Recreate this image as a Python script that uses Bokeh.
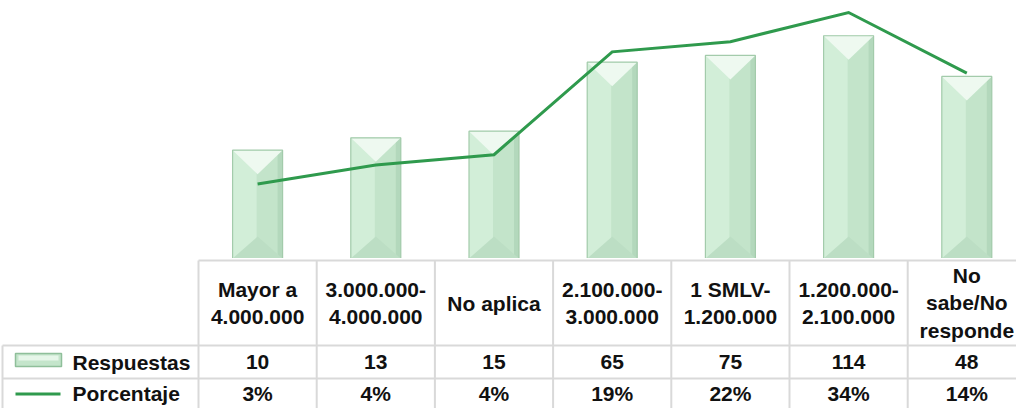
import numpy as np
from bokeh.plotting import figure
from bokeh.models import Range1d, LogScale
from bokeh.layouts import column
from bokeh.embed import file_html
from bokeh.resources import INLINE
from bokeh.core.properties import value

# ---------------- data ----------------
categories = ["Mayor a\n4.000.000", "3.000.000-\n4.000.000", "No aplica",
              "2.100.000-\n3.000.000", "1 SMLV-\n1.200.000",
              "1.200.000-\n2.100.000", "No\nsabe/No\nresponde"]
respuestas = [10, 13, 15, 65, 75, 114, 48]
porcentaje = [2.9, 3.8, 4.4, 19.1, 22.1, 33.5, 14.1]
series_names = ["Respuestas", "Porcentaje"]

# ---------------- layout constants (px) ----------------
W, H_CHART, H_TABLE = 1016, 258, 150
COL_W = 118.2
FIRST_COL = 198
PX_DEC_BAR = 108.3
PX_DEC_PCT = 161.3
BAR_W = 50
FONT = value("Liberation Sans")
FS = "21px"
LINE_COLOR = "#2f9a4d"
GRID = "#d9d9d9"
TXT = "#111111"

n = len(categories)
idx = np.arange(n)
cx = idx + 0.5
xr = Range1d(-FIRST_COL / COL_W, (W - FIRST_COL) / COL_W)

# ---------------- chart ----------------
p = figure(width=W, height=H_CHART, x_range=xr,
           y_range=Range1d(1, 10 ** (H_CHART / PX_DEC_BAR)),
           output_backend="svg", toolbar_location=None, min_border=0,
           x_axis_location=None, y_axis_location=None)
p.y_scale = LogScale()
p.extra_y_ranges = {"pct": Range1d(1, 10 ** (H_CHART / PX_DEC_PCT))}
p.extra_y_scales = {"pct": LogScale()}
p.grid.visible = False
p.outline_line_color = None
p.background_fill_color = None
p.border_fill_color = None

h = BAR_W / 2 / COL_W
s = 5 / COL_W
tops = np.array(respuestas, dtype=float)
ones = np.ones(n)

# base face (right half)
p.quad(left=cx - h, right=cx + h, bottom=ones, top=tops,
       fill_color="#c3e4ca", line_color=None)
# left half lighter
p.quad(left=cx - h, right=cx - 1 / COL_W, bottom=ones, top=tops,
       fill_color="#d2eed8", line_color=None)
# right strip darker
p.quad(left=cx + h - s, right=cx + h, bottom=ones, top=tops,
       fill_color="#b3d8bc", line_color=None)
# top bevel triangle
tip_top = tops / 10 ** (24 / PX_DEC_BAR)
p.patches(xs=[[a - h, a + h, a] for a in cx],
          ys=[[t, t, tt] for t, tt in zip(tops, tip_top)],
          fill_color="#eef9f0", line_color=None)
# bottom bevel triangle
tip_bot = ones * 10 ** (22 / PX_DEC_BAR)
p.patches(xs=[[a - h, a + h, a] for a in cx],
          ys=[[1, 1, tb] for tb in tip_bot],
          fill_color="#bcdec4", line_color=None)
# outline
p.quad(left=cx - h, right=cx + h, bottom=ones, top=tops,
       fill_color=None, line_color="#a3cbab", line_width=1.2)

# percentage line
p.line(x=cx, y=porcentaje, y_range_name="pct", line_color=LINE_COLOR,
       line_width=3, line_join="miter")

# ---------------- data table ----------------
t = figure(width=W, height=H_TABLE, x_range=xr, y_range=Range1d(408, 258),
           output_backend="svg", toolbar_location=None, min_border=0,
           x_axis_location=None, y_axis_location=None)
t.grid.visible = False
t.outline_line_color = None
t.background_fill_color = None
t.border_fill_color = None

Y_HEAD_TOP, Y_ROW1, Y_ROW2, Y_BOT = 260, 345, 378, 412
legend_left = (2 - FIRST_COL) / COL_W

# vertical grid lines
bounds = np.arange(n + 1)
t.segment(x0=bounds, x1=bounds, y0=[Y_HEAD_TOP] * (n + 1), y1=[Y_BOT] * (n + 1),
          line_color=GRID, line_width=2)
t.segment(x0=[legend_left], x1=[legend_left], y0=[Y_ROW1], y1=[Y_BOT],
          line_color=GRID, line_width=2)
# horizontal grid lines
t.segment(x0=[0, legend_left, legend_left], x1=[n, n, n],
          y0=[Y_HEAD_TOP, Y_ROW1, Y_ROW2], y1=[Y_HEAD_TOP, Y_ROW1, Y_ROW2],
          line_color=GRID, line_width=2)

# header labels
t.text(x=cx, y=[(Y_HEAD_TOP + Y_ROW1) / 2] * n, text=categories,
       text_align="center", text_baseline="middle", text_font=FONT,
       text_font_size=FS, text_font_style="bold", text_color=TXT,
       text_line_height=1.2)
# values rows
t.text(x=cx, y=[(Y_ROW1 + Y_ROW2) / 2] * n, text=[str(v) for v in respuestas],
       text_align="center", text_baseline="middle", text_font=FONT,
       text_font_size=FS, text_font_style="bold", text_color=TXT)
t.text(x=cx, y=[(Y_ROW2 + Y_BOT) / 2 - 2] * n,
       text=[f"{round(v)}%" for v in porcentaje],
       text_align="center", text_baseline="middle", text_font=FONT,
       text_font_size=FS, text_font_style="bold", text_color=TXT)

# legend keys
kl, kr = (15 - FIRST_COL) / COL_W, (61 - FIRST_COL) / COL_W
t.quad(left=[kl], right=[kr], bottom=[366], top=[353],
       fill_color="#c4e5cb", line_color="#8fbf9a", line_width=1.5)
t.quad(left=[kl + 3 / COL_W], right=[kr - 3 / COL_W], bottom=[360], top=[355],
       fill_color="#e6f6e9", line_color=None)
t.segment(x0=[kl], x1=[(60 - FIRST_COL) / COL_W], y0=[393.5], y1=[393.5],
          line_color=LINE_COLOR, line_width=3)
lab_x = (72 - FIRST_COL) / COL_W
t.text(x=[lab_x, lab_x], y=[(Y_ROW1 + Y_ROW2) / 2, (Y_ROW2 + Y_BOT) / 2 - 2],
       text=series_names, text_align="left", text_baseline="middle",
       text_font=FONT, text_font_size=FS, text_font_style="bold",
       text_color=TXT)

layout = column(p, t, spacing=0)
open("out.html", "w").write(file_html(layout, INLINE))
